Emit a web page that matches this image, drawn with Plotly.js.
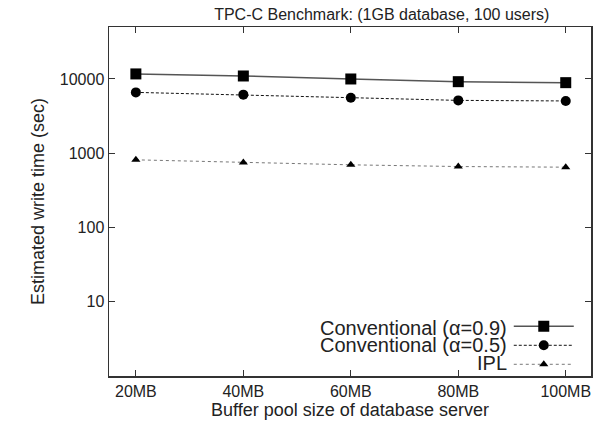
<!DOCTYPE html>
<html>
<head>
<meta charset="utf-8">
<script src="https://cdn.plot.ly/plotly-3.0.1.min.js"></script>
<style>html,body{margin:0;padding:0;background:#fff;} #chart{width:606px;height:425px;}</style>
</head>
<body>
<div id="chart"></div>
<script>
const bufferSizes = [20, 40, 60, 80, 100];
const tickLabels = ["20MB", "40MB", "60MB", "80MB", "100MB"];
const conv09 = [11700, 10970, 10000, 9200, 8920];
const conv05 = [6600, 6150, 5600, 5150, 5060];
const ipl = [815, 750, 698, 662, 649];
const seriesNames = ["Conventional (\u03b1=0.9)", "Conventional (\u03b1=0.5)", "IPL"];
const yTicks = [10, 100, 1000, 10000];

const font = "Liberation Sans, Arial, sans-serif";
const ink = "#222";

const traces = [
  {x: bufferSizes, y: conv09, name: "", mode: "lines+markers",
   line: {color: "#555", width: 1.5, dash: "solid"},
   marker: {symbol: "square", size: 11, color: "#000"}},
  {x: bufferSizes, y: conv05, name: "", mode: "lines+markers",
   line: {color: "#111", width: 1, dash: "3px,2px"},
   marker: {symbol: "circle", size: 10, color: "#000"}},
  {x: bufferSizes, y: ipl, name: "", mode: "lines+markers",
   line: {color: "#777", width: 1, dash: "dot"},
   marker: {symbol: "triangle-up", size: 8, color: "#000"}}
];

const layout = {
  width: 606, height: 425,
  margin: {l: 109, r: 15, t: 27, b: 49},
  paper_bgcolor: "#fff", plot_bgcolor: "#fff",
  font: {family: font, color: ink, size: 16},
  title: {text: "TPC-C Benchmark: (1GB database, 100 users)", font: {size: 16, family: font, color: ink},
          x: 0.63, xanchor: "center", y: 0.967, yanchor: "middle"},
  xaxis: {
    range: [15, 104.7], tickvals: bufferSizes, ticktext: tickLabels,
    ticks: "inside", ticklen: 6, tickcolor: "#333", showline: true, linecolor: "#333", linewidth: 1.5,
    mirror: "ticks", showgrid: false, zeroline: false, tickfont: {size: 16},
    title: {text: "Buffer pool size of database server", font: {size: 18}, standoff: 0}
  },
  yaxis: {
    type: "log", range: [0, 4.7], tickvals: yTicks, ticktext: yTicks.map(String),
    ticks: "inside", ticklen: 6, tickcolor: "#333", showline: true, linecolor: "#333", linewidth: 1.5,
    mirror: "ticks", showgrid: false, zeroline: false, tickfont: {size: 16},
    title: {text: "Estimated write time (sec)", font: {size: 18}, standoff: 10}
  },
  showlegend: true,
  legend: {x: 0.985, xanchor: "right", y: -0.008, yanchor: "bottom", bgcolor: "rgba(0,0,0,0)",
           font: {size: 10}, tracegroupgap: 0, itemwidth: 60},
  annotations: seriesNames.map((t, i) => ({
    text: t, xref: "paper", yref: "paper", x: 0.83, y: [0.1375, 0.0874, 0.0372][i],
    xanchor: "right", yanchor: "middle", showarrow: false, font: {size: 20, family: font, color: ink}
  }))
};

Plotly.newPlot("chart", traces, layout, {displayModeBar: false, staticPlot: true});
</script>
</body>
</html>
